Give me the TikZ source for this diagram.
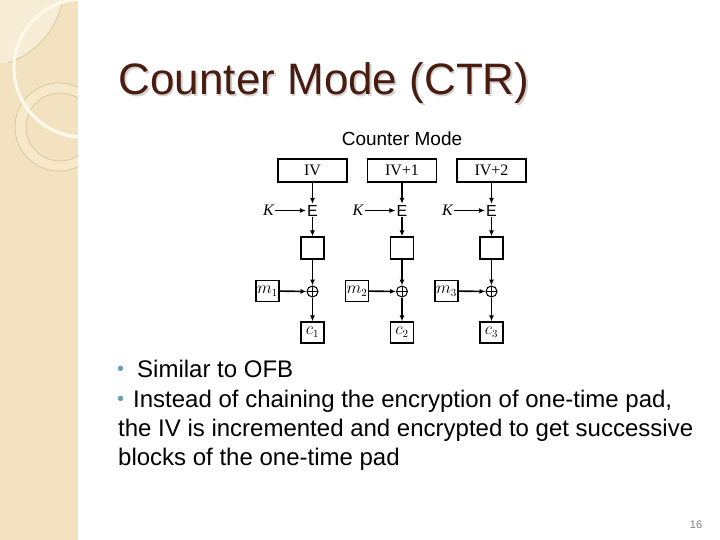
\documentclass[tikz,border=0pt]{standalone}
\usepackage{fontspec}
\setmainfont{Liberation Sans}
\newfontfamily\diagserif{Liberation Serif}
\usetikzlibrary{arrows.meta}
\definecolor{streifen}{HTML}{F2E2C0}
\definecolor{hell}{HTML}{F7EDD7}
\definecolor{ringfarbe}{HTML}{F6E8C9}
\definecolor{ringlinie}{HTML}{D3BE94}
\definecolor{bogen}{HTML}{FFF9EC}
\definecolor{titelbraun}{HTML}{4A1C10}
\definecolor{punkt}{HTML}{6C9EB3}
\tikzset{
  kasten/.style={draw, line width=1.3pt, inner sep=0pt, minimum width=69pt,
    minimum height=23pt, font=\diagserif\fontsize{16}{16}\selectfont},
  klein/.style={draw, line width=1.4pt, inner sep=0pt, minimum width=23pt,
    minimum height=21pt, font=\fontsize{16}{16}\selectfont},
  pfeil/.style={-{Latex[length=6pt,width=5pt]}, line width=1.1pt},
  xorknoten/.style={circle, draw, line width=1pt, minimum size=11pt, inner sep=0pt,
    path picture={\draw[line width=0.8pt] (path picture bounding box.north) -- (path picture bounding box.south)
      (path picture bounding box.west) -- (path picture bounding box.east);}},
  zeile/.style={anchor=base west, inner sep=0pt, font=\fontsize{24}{29}\selectfont},
}
\begin{document}
\begin{tikzpicture}[x=1pt, y=-1pt]
		\useasboundingbox (0,0) rectangle (720,540);
		\fill[white] (0,0) rectangle (720,540);
		
		% Randstreifen
		\fill[streifen] (0,0) rectangle (78,540);
		\begin{scope}
			\clip (0,0) rectangle (78,540);
			\begin{scope}
				\clip (0,0) rectangle (78,63);
				\fill[hell] (-18,-15) circle (82pt);
				\draw[ringlinie, line width=0.6pt] (-18,-15) circle (82pt);
			\end{scope}
			\fill[ringfarbe, even odd rule] (59,127) circle (44pt) (60,127) circle (34pt);
			\draw[ringlinie, line width=0.6pt] (59,127) circle (44pt);
			\draw[ringlinie, line width=0.6pt] (60,127) circle (34pt);
			\draw[bogen, line width=3.2pt] (83,68) circle (69pt);
		\end{scope}
		
		% Titel
		\node[anchor=base west, inner sep=0pt, gray!35, font=\fontsize{44}{44}\selectfont] at (120,96.5) {Counter Mode (CTR)};
		\node[anchor=base west, inner sep=0pt, titelbraun, font=\fontsize{44}{44}\selectfont] (titel) at (118.5,95) {Counter Mode (CTR)};
		
		% Bildunterschrift
		\node[anchor=base, inner sep=0pt, font=\fontsize{19}{19}\selectfont] (ueber) at (402,146) {Counter Mode};
		
		% Drei Spalten
		\foreach \i/\x/\lab in {1/312.5/IV, 2/402/IV+1, 3/491.5/IV+2} {
			\node[kasten] (iv\i) at (\x,170.5) {\lab};
			\node[inner sep=1pt, font=\fontsize{16}{16}\selectfont] (e\i) at (\x,210.5) {E};
			\node[inner sep=1pt, font=\diagserif\itshape\fontsize{16}{16}\selectfont] (k\i) at (\x-44,210.5) {K};
			\node[klein, minimum height=22pt] (sq\i) at (\x,248) {};
			\node[xorknoten] (x\i) at (\x,291.5) {};
			\node[klein] (m\i) at (\x-45,291) {$m_{\i}$};
			\node[klein] (c\i) at (\x,332.5) {$c_{\i}$};
			\draw[pfeil] (iv\i) -- (e\i);
			\draw[pfeil] (k\i) -- (e\i);
			\draw[pfeil] (e\i) -- (sq\i);
			\draw[pfeil] (sq\i) -- (x\i);
			\draw[pfeil, line width=1.6pt] (m\i) -- (x\i);
			\draw[pfeil] (x\i) -- (c\i);
		}
		
		% Aufzaehlung
		\node[zeile, punkt, font=\fontsize{20}{20}\selectfont] (p1) at (117,375) {•};
		\node[zeile] (z1) at (137,377) {Similar to OFB};
		\node[zeile, punkt, font=\fontsize{20}{20}\selectfont] (p2) at (117,405) {•};
		\node[zeile] (z2) at (133,407) {Instead of chaining the encryption of one-time pad,};
		\node[zeile] (z3) at (118,436) {the IV is incremented and encrypted to get successive};
		\node[zeile] (z4) at (118,465) {blocks of the one-time pad};
		
		% Seitenzahl
		\node[anchor=base, inner sep=0pt, gray, font=\fontsize{11}{11}\selectfont] (seite) at (696,528) {16};
	\end{tikzpicture}
\end{document}
